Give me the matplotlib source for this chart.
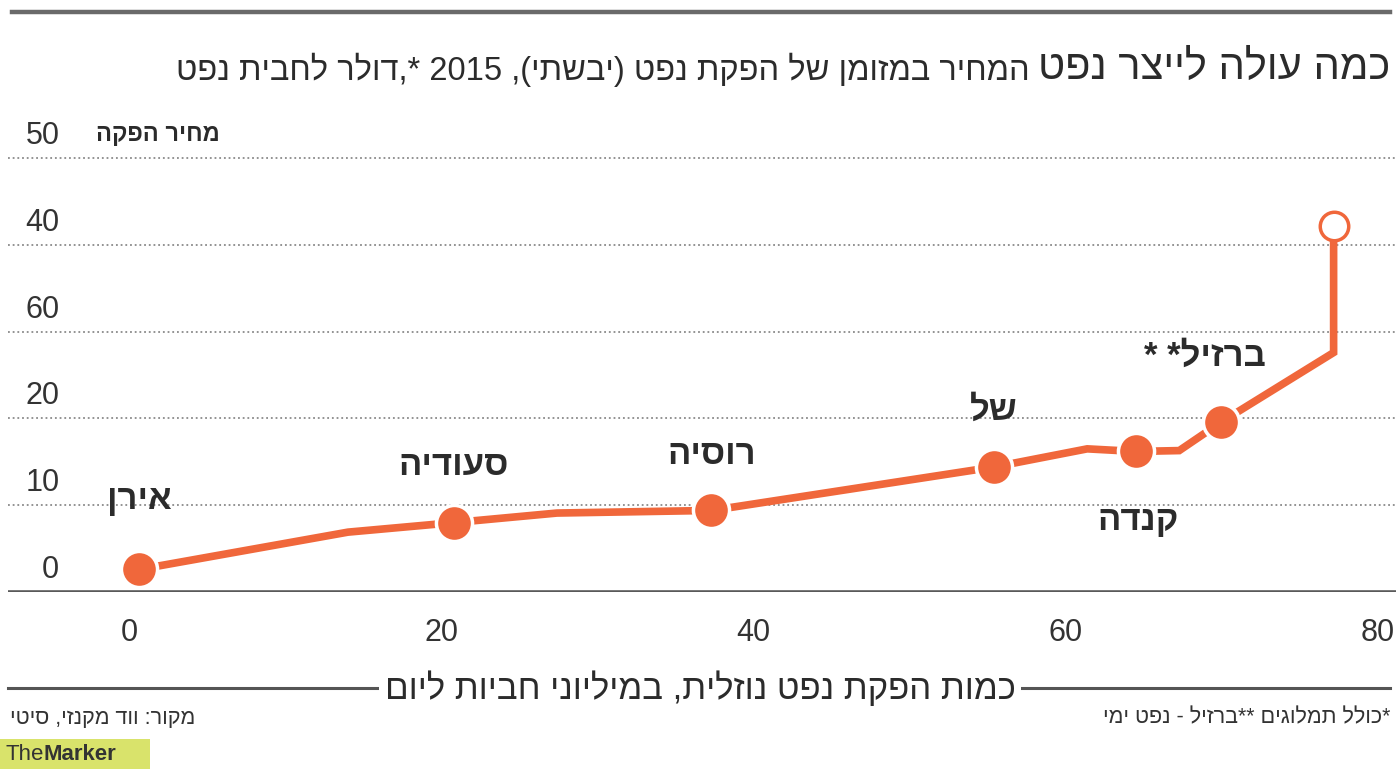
import re

import matplotlib
matplotlib.use("Agg")
import matplotlib.pyplot as plt
from matplotlib import font_manager
from matplotlib.lines import Line2D
from matplotlib.patches import Rectangle
from matplotlib.transforms import blended_transform_factory, offset_copy

# data
supply = [0.6, 14.0, 20.8, 27.4, 37.3, 55.4, 61.4, 64.5, 67.3, 70.0, 77.2, 77.2]
cost = [2.6, 6.9, 8.0, 9.1, 9.4, 14.4, 16.5, 16.2, 16.3, 19.6, 27.6, 42.2]
country_idx = [0, 2, 4, 5, 7, 9]
countries = ["אירן", "סעודיה", "רוסיה", "של", "קנדה", "ברזיל* *"]
top_idx = 11
y_ticks = [0, 10, 20, 30, 40, 50]
y_labels = ["0", "10", "20", "60", "40", "50"]
x_ticks = [0, 20, 40, 60, 80]

title_big = "כמה עולה לייצר נפט"
title_small = "המחיר במזומן של הפקת נפט (יבשתי), 2015 *,דולר לחבית נפט"
y_name = "מחיר הפקה"
x_name = "כמות הפקת נפט נוזלית, במיליוני חביות ליום"
source = "מקור: ווד מקנזי, סיטי"
note = "*כולל תמלוגים **ברזיל - נפט ימי"


def heb(s):
    # no bidi engine here: flip to visual order, keep numbers LTR, mirror brackets
    r = s[::-1]
    r = re.sub(r"\d+", lambda m: m.group(0)[::-1], r)
    return r.translate(str.maketrans("()", ")("))


names = {f.name for f in font_manager.fontManager.ttflist}
narrow = "Liberation Sans Narrow" if "Liberation Sans Narrow" in names else "Liberation Sans"
FAM = [narrow, "Liberation Sans", "DejaVu Sans"]
BOLD = ["Liberation Sans", "DejaVu Sans"]
plt.rcParams["font.family"] = FAM

ORANGE = "#f0673b"
INK = "#2b2b2b"
W, H = 1396, 769

fig = plt.figure(figsize=(W / 100, H / 100), dpi=100)
ax = fig.add_axes([8 / W, 1 - 592 / H, 1388 / W, (592 - 140) / H])
ax.set_xlim(-7.8, 81.2)
ax.set_ylim(0, 52.1)
for s in ax.spines.values():
    s.set_visible(False)
ax.set_yticks([])

ax.set_xticks(x_ticks)
ax.set_xticklabels([str(v) for v in x_ticks], fontsize=22, color="#333333")
ax.tick_params(axis="x", length=0, pad=19)

ytr = offset_copy(blended_transform_factory(ax.transAxes, ax.transData), fig=fig, y=7, units="dots")
for v, lab in zip(y_ticks, y_labels):
    if v > 0:
        ax.axhline(v, color="#8a8a8a", lw=1.3, ls=(0, (1, 1.6)), zorder=1)
    ax.text(0.037, v, lab, transform=ytr, ha="right", va="bottom", fontsize=22, color="#333333")
ax.axhline(0, color="#5a5a5a", lw=2.6, zorder=2)

ax.text(212 / 1388, 50, heb(y_name),
        transform=offset_copy(blended_transform_factory(ax.transAxes, ax.transData), fig=fig, y=12, units="dots"),
        ha="right", va="bottom", fontsize=17, fontweight="bold", family=BOLD, color=INK)

ax.plot(supply, cost, color=ORANGE, lw=5.5, solid_joinstyle="miter", zorder=3)
ax.plot([supply[i] for i in country_idx], [cost[i] for i in country_idx], "o", ms=26,
        mfc=ORANGE, mec="white", mew=2.5, zorder=4)
ax.plot(supply[top_idx], cost[top_idx], "o", ms=20.5, mfc="white", mec=ORANGE, mew=2.5, zorder=4)

label_offsets = [(0, 50), (0, 41), (0, 40), (0, 41), (2, -50), (-12, 47)]
for i, name, off in zip(country_idx, countries, label_offsets):
    ax.annotate(heb(name), (supply[i], cost[i]), xytext=off, textcoords="offset points",
                ha="center", va="center", fontsize=25, fontweight="bold", family=BOLD, color=INK)

# title
fig.add_artist(Line2D([12 / W, 1390 / W], [1 - 12 / H, 1 - 12 / H], color="#6a6a6a", lw=3.2))
big = fig.text(1390 / W, 1 - 68 / H, heb(title_big), ha="right", va="center", fontsize=30, color=INK)
fig.canvas.draw()
bb = big.get_window_extent()
fig.text((bb.x0 - 8) / W, 1 - 70 / H, heb(title_small), ha="right", va="center", fontsize=23.5, color=INK)

# x axis name with rule through it
fig.add_artist(Line2D([8 / W, 1390 / W], [1 - 688 / H, 1 - 688 / H], color="#555555", lw=2.2))
fig.text(700 / W, 1 - 688 / H, heb(x_name), ha="center", va="center", fontsize=25, color=INK,
         bbox=dict(facecolor="white", edgecolor="none", pad=4))

fig.text(195 / W, 1 - 718 / H, heb(source), ha="right", va="center", fontsize=15.5, color="#333333")
fig.text(1390 / W, 1 - 718 / H, heb(note), ha="right", va="center", fontsize=15.5, color="#333333")

fig.add_artist(Rectangle((0, 0), 150 / W, 30 / H, transform=fig.transFigure, color="#d9e36b", lw=0))
t = fig.text(5 / W, 14 / H, "The", ha="left", va="center", fontsize=16, color="#333333")
fig.canvas.draw()
tb = t.get_window_extent()
fig.text(tb.x1 / W, 14 / H, "Marker", ha="left", va="center", fontsize=16, fontweight="bold", color="#333333")

fig.savefig("out.png", dpi=100)
